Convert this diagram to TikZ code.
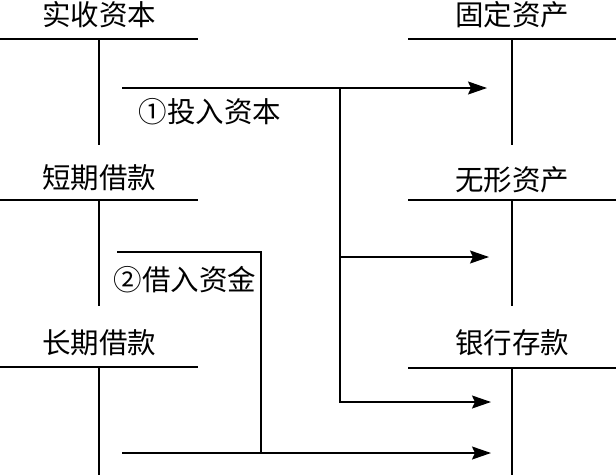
\documentclass[tikz,border=0pt]{standalone}
\usepackage{fontspec}
\setmainfont{Noto Sans CJK SC}
\usetikzlibrary{arrows.meta}
\begin{document}
\begin{tikzpicture}[x=1pt,y=-1pt,
  title/.style={inner sep=0pt,font=\fontsize{28.5}{28.5}\selectfont},
  tline/.style={line width=2pt},
  vline/.style={line width=1.5pt},
  flow/.style={line width=1.6pt},
  arr/.style={flow,-{Stealth[length=19pt,width=13pt,inset=3pt]}}]
\useasboundingbox (0,0) rectangle (616,475);
% left accounts
\node[title] (sszb) at (99,15) {实收资本};
\draw[tline] (0,39) -- (198,39);
\draw[vline] (99,39) -- (99,145);
\node[title] (dqjk) at (99,178) {短期借款};
\draw[tline] (0,200) -- (198,200);
\draw[vline] (99,200) -- (99,306);
\node[title] (cqjk) at (99,343) {长期借款};
\draw[tline] (0,367) -- (198,367);
\draw[vline] (99,367) -- (99,475);
% right accounts
\node[title] (gdzc) at (512,15) {固定资产};
\draw[tline] (408,39) -- (616,39);
\draw[vline] (512,39) -- (512,145);
\node[title] (wxzc) at (512,180) {无形资产};
\draw[tline] (408,200) -- (616,200);
\draw[vline] (512,200) -- (512,306);
\node[title] (yhck) at (512,343) {银行存款};
\draw[tline] (408,368) -- (616,368);
\draw[vline] (512,368) -- (512,475);
% flow 1
\coordinate (a1) at (122,88);
\coordinate (b1) at (340,88);
\coordinate (t1) at (487,88);
\coordinate (b2) at (340,257);
\coordinate (t2) at (489,257);
\coordinate (t3) at (491,402);
\draw[arr] (a1) -- (t1);
\draw[arr] (b2) -- (t2);
\draw[arr] (b1) |- (t3);
\node[title] (l1) at (210,112) {①投入资本};
% flow 2
\coordinate (c1) at (117,252);
\coordinate (c2) at (261,252);
\coordinate (c3) at (261,453);
\coordinate (d1) at (122,453);
\coordinate (t4) at (491,453);
\draw[flow] (c1) -- (c2) -- (c3);
\draw[arr] (d1) -- (t4);
\node[title] (l2) at (185,280) {②借入资金};
\end{tikzpicture}
\end{document}
